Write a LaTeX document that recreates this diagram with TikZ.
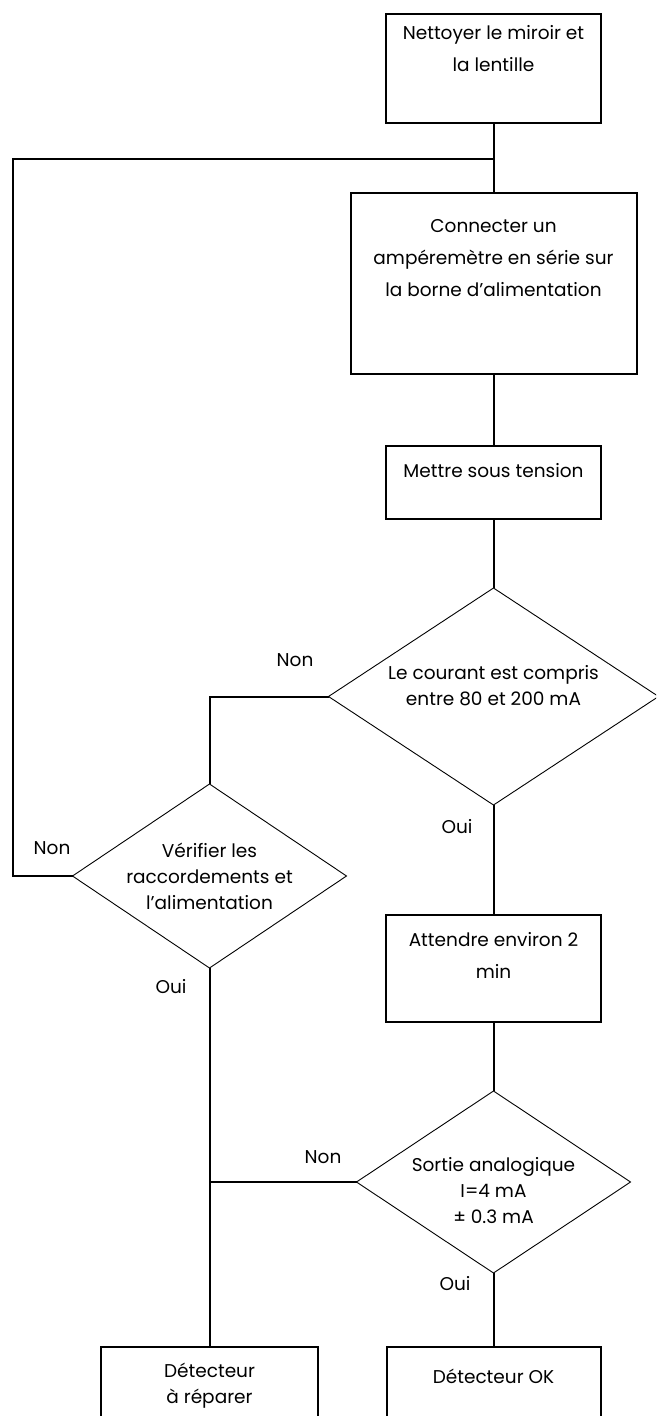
\documentclass[tikz,border=0pt]{standalone}
\usepackage{fontspec}
\setmainfont{Poppins}
\usetikzlibrary{shapes.geometric,positioning}
\tikzstyle{stepbox} = [draw=black, line width=2pt, rectangle,
    inner sep=0pt, outer sep=0pt, font=\fontsize{18.5}{32}\selectfont]
\tikzstyle{testnode} = [draw=black, line width=0.9pt, diamond,
    inner sep=0pt, outer sep=0pt]
\tikzstyle{testtext} = [align=center, inner sep=0pt, font=\fontsize{18.5}{26}\selectfont]
\tikzstyle{link} = [line width=2pt]
\tikzstyle{answer} = [inner sep=0pt, font=\fontsize{18.5}{22}\selectfont]
\newcommand{\boxbody}[4]{\begin{minipage}[c][#2][t]{#1}\centering\rule{0pt}{#3}#4\end{minipage}}

\begin{document}
\begin{tikzpicture}[x=1pt,y=-1pt]
                \useasboundingbox (0,0) rectangle (656,1416);
                \clip (0,0) rectangle (656,1416);
                % steps
                \node [stepbox] (nettoyer) at (493.5,68.5)
                    {\boxbody{215pt}{109pt}{25pt}{Nettoyer le miroir et\\la lentille}};
                \node [stepbox] (connecter) at (493.5,283.5)
                    {\boxbody{286pt}{181pt}{39pt}{Connecter un\\amp\'erem\`etre en s\'erie sur\\la borne d’alimentation}};
                \node [stepbox] (tension) at (493.5,482.5)
                    {\boxbody{215pt}{73pt}{31pt}{Mettre sous tension}};
                \node [testnode, minimum width=330pt, minimum height=217pt] (courant) at (493.5,696.5) {};
                \node [testtext] (courant-t) at ([yshift=11pt]courant.center)
                    {Le courant est compris\\entre 80 et 200 mA};
                \node [testnode, minimum width=274pt, minimum height=184pt] (verifier) at (209.5,876) {};
                \node [testtext] (verifier-t) at (verifier.center)
                    {V\'erifier les\\raccordements et\\l’alimentation};
                \node [stepbox] (attendre) at (493.5,968.5)
                    {\boxbody{215pt}{107pt}{31pt}{Attendre environ 2\\min}};
                \node [testnode, minimum width=274pt, minimum height=182pt] (sortie) at (493.5,1182) {};
                \node [testtext] (sortie-t) at ([yshift=-9pt]sortie.center)
                    {Sortie analogique\\I=4 mA\\± 0.3 mA};
                \node [stepbox] (ok) at (493.5,1387)
                    {\boxbody{214pt}{80pt}{36pt}{D\'etecteur OK}};
                \node [stepbox, font=\fontsize{18.5}{26}\selectfont] (reparer) at (209.5,1387)
                    {\boxbody{217pt}{80pt}{30pt}{D\'etecteur\\\`a r\'eparer}};
                % answers
                \node [answer] (courant-non) at (295,660) {Non};
                \node [answer] (courant-oui) at (457,827) {Oui};
                \node [answer] (verifier-non) at (52,848) {Non};
                \node [answer] (verifier-oui) at (171,987) {Oui};
                \node [answer] (sortie-non) at (323,1157) {Non};
                \node [answer] (sortie-oui) at (455,1284) {Oui};
                % links
                \coordinate (jonction) at (493.5,159);
                \coordinate (retour) at (13,876);
                \draw [link] (nettoyer.south) -- (connecter.north);
                \draw [link] (connecter.south) -- (tension.north);
                \draw [link] (tension.south) -- (courant.north);
                \draw [link] (courant.west) -| (verifier.north);
                \draw [link] (verifier.west) -- (retour) |- (jonction);
                \draw [link] (courant.south) -- (attendre.north);
                \draw [link] (attendre.south) -- (sortie.north);
                \draw [link] (sortie.south) -- (ok.north);
                \draw [link] (verifier.south) -- (reparer.north);
                \draw [link] (sortie.west) -- (sortie.west -| reparer.north);
            \end{tikzpicture}
\end{document}
